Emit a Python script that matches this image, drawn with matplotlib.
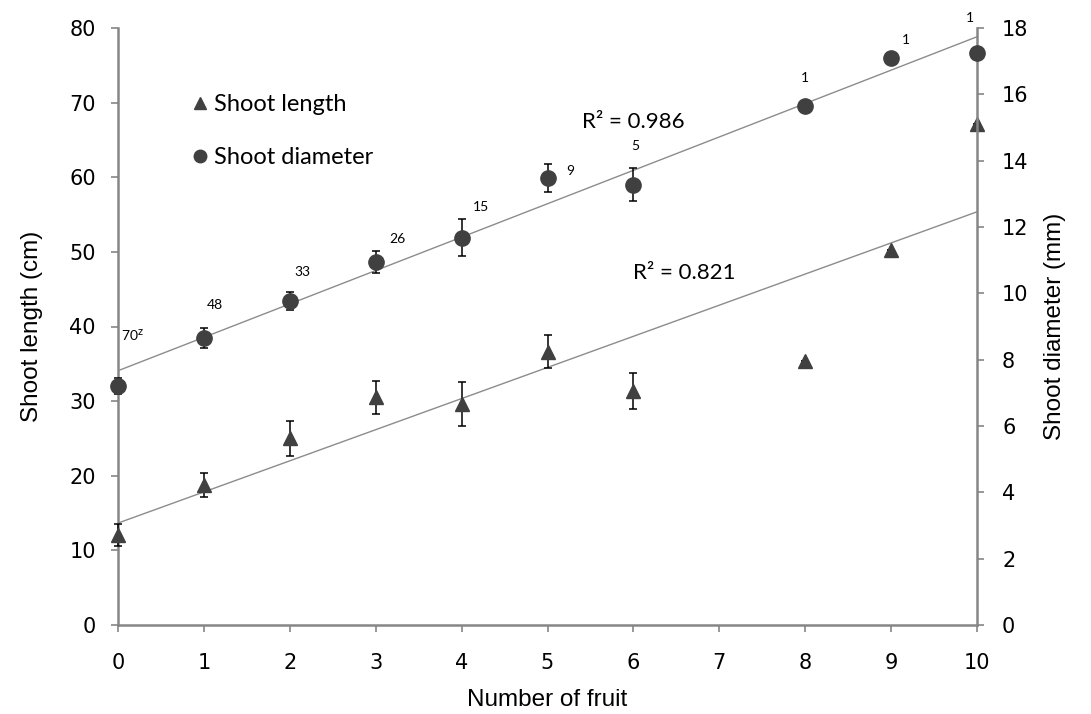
import matplotlib
matplotlib.use("Agg")
import matplotlib.pyplot as plt
from matplotlib.lines import Line2D
import numpy as np

# ---- data ----
fruit = [0, 1, 2, 3, 4, 5, 6, 8, 9, 10]
shoot_length = [12.1, 18.8, 25.0, 30.5, 29.6, 36.6, 31.4, 35.4, 50.2, 67.2]
shoot_length_err = [1.5, 1.6, 2.3, 2.2, 2.9, 2.2, 2.4, 0, 0, 0]
shoot_diam = [7.21, 8.64, 9.78, 10.95, 11.68, 13.47, 13.27, 15.65, 17.11, 17.24]
shoot_diam_err = [0.25, 0.3, 0.27, 0.33, 0.55, 0.42, 0.5, 0, 0, 0]
n_labels = ["70$^{\\rm z}$", "48", "33", "26", "15", "9", "5", "1", "1", "1"]
x_ticks = list(range(0, 11))
r2_diam = "R² = 0.986"
r2_len = "R² = 0.821"

# ---- layout (label positions in diameter-axis data coords) ----
label_pos = [(0.17, 8.75), (1.13, 9.65), (2.15, 10.65), (3.25, 11.65), (4.22, 12.6),
             (5.27, 13.7), (6.02, 14.45), (8.0, 16.5), (9.17, 17.65), (9.92, 18.3)]

DARK = "#404040"
SPINE = "#868686"

fig = plt.figure(figsize=(10.91, 7.14), dpi=100)
ax = fig.add_axes([118/1091, 89/714, (977-118)/1091, (625-28)/714])
ax2 = ax.twinx()

# shoot length
ax.errorbar(fruit, shoot_length, yerr=shoot_length_err, fmt="^", color=DARK,
            markersize=10, ecolor="black", elinewidth=1.1, capsize=3, capthick=1.1,
            zorder=3, clip_on=False)
c = np.polyfit(fruit, shoot_length, 1)
xx = np.array([0, 10])
ax.plot(xx, np.polyval(c, xx), color="#8c8c8c", lw=1.0, zorder=2)

# shoot diameter
ax2.errorbar(fruit, shoot_diam, yerr=shoot_diam_err, fmt="o", color=DARK,
             markersize=11, ecolor="black", elinewidth=1.1, capsize=3, capthick=1.1,
             zorder=3, clip_on=False)
c2 = np.polyfit(fruit, shoot_diam, 1)
ax2.plot(xx, np.polyval(c2, xx), color="#8c8c8c", lw=1.0, zorder=2)

for lab, (px, py) in zip(n_labels, label_pos):
    ax2.text(px, py, lab, fontsize=10, family="Lato", ha="center", va="center", color="black")

ax2.text(582/1091, 1-122/714, r2_diam, transform=fig.transFigure, fontsize=16, family="Lato",
         va="center", ha="left")
ax2.text(633/1091, 1-273/714, r2_len, transform=fig.transFigure, fontsize=16, family="Lato",
         va="center", ha="left")

ax.set_xlim(0, 10)
ax.set_ylim(0, 80)
ax2.set_ylim(0, 18)
ax.set_xticks(x_ticks)
ax.set_yticks(range(0, 81, 10))
ax2.set_yticks(range(0, 19, 2))

for a in (ax, ax2):
    for s in a.spines.values():
        s.set_color(SPINE)
        s.set_linewidth(1.8)
    a.spines["top"].set_visible(False)
    a.tick_params(colors=SPINE, labelcolor="black", labelsize=15, length=5, width=1.2, direction="out")
ax.spines["right"].set_visible(False)
ax2.spines["left"].set_visible(False)
ax2.spines["bottom"].set_visible(False)
ax.tick_params(axis="x", pad=15)
ax.tick_params(axis="y", pad=11)
ax2.tick_params(axis="y", pad=13)

ax.set_xlabel("Number of fruit", fontsize=17.5, family="Liberation Sans", labelpad=12)
ax.set_ylabel("Shoot length (cm)", fontsize=17.5, family="Liberation Sans", labelpad=19)
ax2.set_ylabel("Shoot diameter (mm)", fontsize=17.5, family="Liberation Sans", labelpad=11)

handles = [Line2D([], [], marker="^", ls="none", color=DARK, markersize=9),
           Line2D([], [], marker="o", ls="none", color=DARK, markersize=9)]
fig.legend(handles, ["Shoot length", "Shoot diameter"], loc="center left",
           bbox_to_anchor=(172/1091, 1-131/714), frameon=False, prop={"family": "Lato", "size": 17},
           handlelength=0.6, handletextpad=0.3, labelspacing=1.35)

fig.savefig("out.png", dpi=100)
